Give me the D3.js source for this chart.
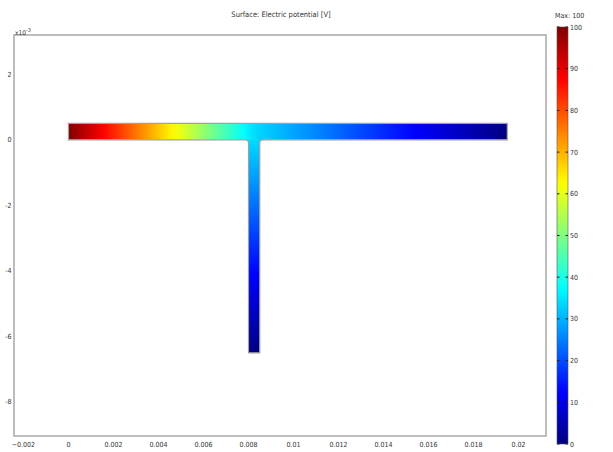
<!DOCTYPE html>
<html><head><meta charset="utf-8">
<script src="https://cdn.jsdelivr.net/npm/d3@7"></script>
<style>
html,body{margin:0;padding:0;background:#fff;}
text{font-family:"Liberation Sans Narrow","DejaVu Sans Condensed","Liberation Sans",sans-serif;fill:#333;}
</style></head>
<body>
<svg id="chart" width="613" height="452"></svg>
<script>
// ---- data ----
const titleText = "Surface: Electric potential [V]";
const xTicks = [-0.002, 0, 0.002, 0.004, 0.006, 0.008, 0.01, 0.012, 0.014, 0.016, 0.018, 0.02];
const yTicks = [-0.008, -0.006, -0.004, -0.002, 0, 0.002];
const yTickLabels = ["-8", "-6", "-4", "-2", "0", "2"];
const colorTicks = [0, 10, 20, 30, 40, 50, 60, 70, 80, 90, 100];
// geometry of the T channel (m)
const barX = [0, 0.0195];
const barY = [0, 0.0005];
const stemX = [0.008, 0.0085];
const stemY = [-0.0065, 0];
// electric potential (V) at key positions
const barPos = [0, 0.00825, 0.0195];
const barV = [100, 34, 0];
const stemPos = [0, -0.0065];
const stemV = [34, 0];
const vMax = 100;

// ---- scales ----
const svg = d3.select("#chart");
const x = d3.scaleLinear().domain([-0.00242, 0.02122]).range([14, 546]);
const y = d3.scaleLinear().domain([-0.00904, 0.0032]).range([436, 35]);
const jet = d3.scaleLinear()
  .domain([0, 12.5, 37.5, 62.5, 87.5, 100])
  .range(["#000080", "#0000ff", "#00ffff", "#ffff00", "#ff0000", "#800000"])
  .interpolate(d3.interpolateRgb);
const cScale = d3.scaleLinear().domain([0, 100]).range([444, 27]);

const defs = svg.append("defs");
function gradient(id, x1, y1, x2, y2, posScale) {
  const g = defs.append("linearGradient").attr("id", id)
    .attr("gradientUnits", "userSpaceOnUse")
    .attr("x1", x1).attr("y1", y1).attr("x2", x2).attr("y2", y2);
  const n = 60;
  for (let i = 0; i <= n; i++) {
    const t = i / n;
    g.append("stop").attr("offset", t).attr("stop-color", jet(posScale(t)));
  }
}
// potential along the bar and stem (piecewise linear through key points)
const barVScale = d3.scaleLinear().domain(barPos).range(barV);
const stemVScale = d3.scaleLinear().domain(stemPos).range(stemV);
gradient("gBar", x(barX[0]), 0, x(barX[1]), 0,
  t => barVScale(barX[0] + t * (barX[1] - barX[0])));
gradient("gStem", 0, y(stemY[1]), 0, y(stemY[0]),
  t => stemVScale(stemY[1] + t * (stemY[0] - stemY[1])));
gradient("gCbar", 0, cScale(0), 0, cScale(100), t => t * 100);

// ---- plot frame ----
svg.append("rect").attr("x", 14).attr("y", 35).attr("width", 532).attr("height", 401)
  .attr("fill", "none").attr("stroke", "#a8a8a8").attr("stroke-width", 1.5);

// ---- T shape path ----
const r = 3;
const L = x(barX[0]), R = x(barX[1]), T = y(barY[1]), B = y(barY[0]);
const sL = x(stemX[0]), sR = x(stemX[1]), sB = y(stemY[0]);
const tPath = `M${L},${T} H${R} V${B} H${sR + r} Q${sR},${B} ${sR},${B + r} V${sB} H${sL} V${B + r} Q${sL},${B} ${sL - r},${B} H${L} Z`;
defs.append("clipPath").attr("id", "tClip").append("path").attr("d", tPath);
const shape = svg.append("g").attr("clip-path", "url(#tClip)");
shape.append("rect").attr("x", sL - r - 1).attr("y", B - 1).attr("width", sR - sL + 2 * r + 2).attr("height", sB - B + 2)
  .attr("fill", "url(#gStem)");
shape.append("rect").attr("x", L).attr("y", T).attr("width", R - L).attr("height", B - T)
  .attr("fill", "url(#gBar)");
svg.append("path").attr("d", tPath).attr("fill", "none").attr("stroke", "#a0a0a0").attr("stroke-width", 1.2);

// ---- axes labels ----
svg.append("g").selectAll("text").data(xTicks).join("text")
  .attr("x", d => x(d)).attr("y", 447).attr("text-anchor", "middle")
  .attr("font-size", 7).text(d => d3.format("")(+d.toFixed(3)));
svg.append("g").selectAll("text").data(yTicks).join("text")
  .attr("x", 11.5).attr("y", d => y(d) + 2.5).attr("text-anchor", "end")
  .attr("font-size", 7).text((d, i) => yTickLabels[i]);
const ex = svg.append("text").attr("x", 15).attr("y", 35).attr("font-size", 6.5);
ex.append("tspan").text("x10");
ex.append("tspan").attr("dy", -3).attr("font-size", 5.5).text("-3");

// ---- title ----
svg.append("text").attr("x", 281).attr("y", 17).attr("text-anchor", "middle")
  .attr("font-size", 7.5).text(titleText);

// ---- colorbar ----
svg.append("rect").attr("x", 557).attr("y", cScale(100)).attr("width", 11).attr("height", cScale(0) - cScale(100))
  .attr("fill", "url(#gCbar)").attr("stroke", "#555").attr("stroke-width", 0.6);
const ct = svg.append("g");
ct.selectAll("line.l").data(colorTicks).join("line").attr("class", "l")
  .attr("x1", 557).attr("x2", 559.5).attr("y1", d => cScale(d)).attr("y2", d => cScale(d))
  .attr("stroke", "#222").attr("stroke-width", 1);
ct.selectAll("line.r").data(colorTicks).join("line").attr("class", "r")
  .attr("x1", 565.5).attr("x2", 568).attr("y1", d => cScale(d)).attr("y2", d => cScale(d))
  .attr("stroke", "#222").attr("stroke-width", 1);
ct.selectAll("text").data(colorTicks).join("text")
  .attr("x", 570).attr("y", d => cScale(d) + 2.5).attr("font-size", 7).text(d => d);
svg.append("text").attr("x", 555).attr("y", 18).attr("font-size", 7).text("Max: " + vMax);
</script>
</body></html>
